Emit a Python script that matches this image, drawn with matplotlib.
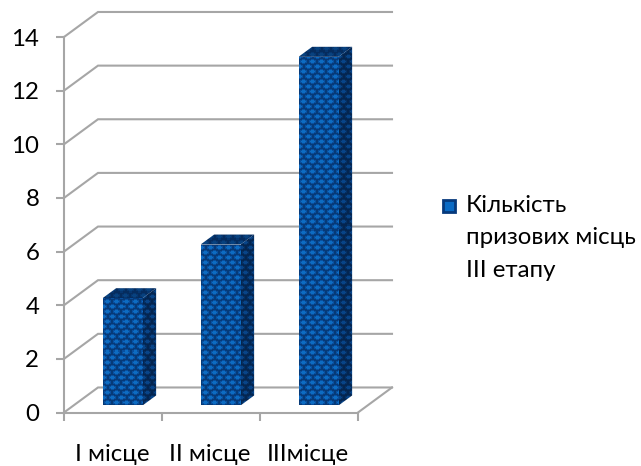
import numpy as np
import matplotlib
matplotlib.use('Agg')
import matplotlib.pyplot as plt
from matplotlib.patches import Polygon, Rectangle

plt.rcParams['font.family'] = ['Lato', 'Noto Sans', 'DejaVu Sans']

categories = ['I місце', 'II місце', 'IIIмісце']
values = [4, 6, 13]
y_ticks = [0, 2, 4, 6, 8, 10, 12, 14]
legend_text = 'Кількість\nпризових місць\nIII етапу'

W, H = 641, 466
GRID = '#a6a6a6'
FS = 17.3
# depth of the 3d box, in data units (one category = 98px, one unit = 26.8px)
DX = 34 / 98
DY = 25 / 26.8
BAR_W = 40 / 98
D_FRONT, D_BACK = 0.28, 0.68


def texture(w, h, light, mid, dark):
    # honeycomb tile, 9px wide, rows 5px tall and shifted by half a tile
    yy, xx = np.mgrid[0:h, 0:w]
    row = (yy // 5) % 2
    px = ((xx + 4 * row) % 9 - 4) / 4.2
    py = (yy % 5 - 2) / 2.4
    r = px ** 2 + py ** 2
    img = np.empty((h, w, 3))
    img[:] = dark
    img[r < 0.8] = mid
    img[r < 0.28] = light
    return img


def c(hexstr):
    return np.array(matplotlib.colors.to_rgb(hexstr))


def textured(ax, pts, tex_colors):
    poly = Polygon(pts, closed=True, facecolor='none', edgecolor='none', transform=ax.transData)
    ax.add_patch(poly)
    xs, ys = zip(*pts)
    x0, x1, y0, y1 = min(xs), max(xs), min(ys), max(ys)
    w = max(int(round((x1 - x0) * 98)), 1)
    h = max(int(round((y1 - y0) * 26.8)), 1)
    im = ax.imshow(texture(w, h, *tex_colors), extent=(x0, x1, y0, y1), aspect='auto',
                   interpolation='nearest', origin='lower', zorder=3)
    im.set_clip_path(poly)


fig = plt.figure(figsize=(W / 100, H / 100), dpi=100)
ax = fig.add_axes([64 / W, 1 - 412.5 / H, 294 / W, 375.5 / H])
ax.patch.set_alpha(0)

# back wall lines and their diagonals
for t in y_ticks:
    ax.plot([0, DX, 3 + DX], [t, t + DY, t + DY], color=GRID, lw=1.5, clip_on=False, zorder=1,
            solid_joinstyle='miter')
ax.plot([3, 3 + DX], [0, DY], color=GRID, lw=1.5, clip_on=False, zorder=1)

front_cols = (c('#0d6cc2'), c('#094f9e'), c('#063a78'))
side_cols = (c('#084488'), c('#052f62'), c('#042550'))
top_cols = (c('#08427f'), c('#063670'), c('#052c5e'))

for i, v in enumerate(values):
    xl = i + 0.5 - BAR_W / 2 + D_FRONT * DX
    xr = xl + BAR_W
    yb = D_FRONT * DY
    yt = v + yb
    dx = (D_BACK - D_FRONT) * DX
    dy = (D_BACK - D_FRONT) * DY
    textured(ax, [(xl, yb), (xr, yb), (xr, yt), (xl, yt)], front_cols)
    textured(ax, [(xr, yb), (xr + dx, yb + dy), (xr + dx, yt + dy), (xr, yt)], side_cols)
    textured(ax, [(xl, yt), (xr, yt), (xr + dx, yt + dy), (xl + dx, yt + dy)], top_cols)

ax.set_xlim(0, 3)
ax.set_ylim(0, 14)
for s in ['top', 'right']:
    ax.spines[s].set_visible(False)
for s in ['left', 'bottom']:
    ax.spines[s].set_color(GRID)
    ax.spines[s].set_linewidth(1.5)
    ax.spines[s].set_zorder(2)

ax.set_yticks(y_ticks)
ax.set_yticklabels([str(t) for t in y_ticks], fontsize=FS, color='black')
ax.tick_params(axis='y', length=5.8, width=1.5, color=GRID, pad=12)
ax.set_xticks([0, 1, 2, 3])
ax.set_xticklabels([])
ax.tick_params(axis='x', length=6, width=1.5, color=GRID)
for i, name in enumerate(categories):
    ax.annotate(name, xy=(i + 0.5, 0), xytext=(-1, -42), textcoords='offset pixels',
                ha='center', va='center', fontsize=FS, annotation_clip=False)

# legend
fig.add_artist(Rectangle((443 / W, 1 - 212 / H), 12 / W, 12 / H, transform=fig.transFigure,
                         facecolor='#0a6ac4', edgecolor='#06397c', lw=2))
fig.text(466 / W, 1 - 195 / H, legend_text, fontsize=FS, va='top', ha='left', linespacing=1.67)

fig.savefig('out.png', dpi=100)
